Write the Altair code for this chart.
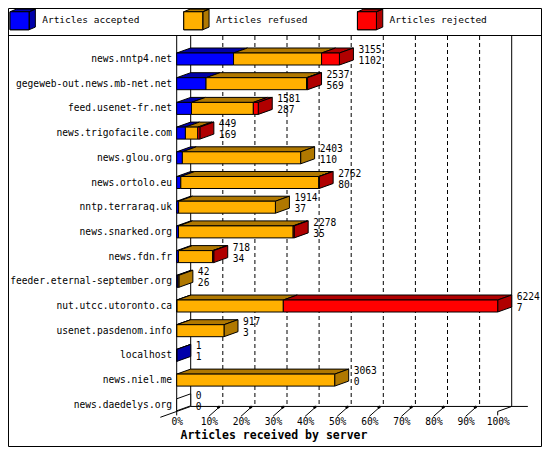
import altair as alt
import pandas as pd

# ---------------- data ----------------
servers = ["news.nntp4.net", "gegeweb-out.news.mb-net.net", "feed.usenet-fr.net",
           "news.trigofacile.com", "news.glou.org", "news.ortolo.eu", "nntp.terraraq.uk",
           "news.snarked.org", "news.fdn.fr", "feeder.eternal-september.org",
           "nut.utcc.utoronto.ca", "usenet.pasdenom.info", "localhost", "news.niel.me",
           "news.daedelys.org"]
offered = [3155, 2537, 1581, 449, 2403, 2762, 1914, 2278, 718, 42, 6224, 917, 1, 3063, 0]
accepted = [1102, 569, 287, 169, 110, 80, 37, 35, 34, 26, 7, 3, 1, 0, 0]
refused = [1707, 1948, 1199, 240, 2293, 2677, 1877, 2223, 664, 16, 2060, 914, 0, 3063, 0]
rejected = [346, 20, 95, 40, 0, 5, 0, 20, 20, 0, 4157, 0, 0, 0, 0]

categories = ["Articles accepted", "Articles refused", "Articles rejected"]
front_colors = ["#0000FF", "#FFB000", "#FF0000"]
side_colors = ["#0000AA", "#B07800", "#B00000"]
pct_ticks = list(range(0, 101, 10))
x_title = "Articles received by server"

# ---------------- geometry / style ----------------
MONO = "DejaVu Sans Mono"
ROW = 24.7
W, H = 321.0, ROW * 15.2
DEPTH_PX, RISE_PX = 14.0, 5.0
HALF_PX = 6.0
FIRST_PX = 23.0
SVG_W, SVG_H = 534.0, 439.0
PAD_L, PAD_T = 168.7, 28.0

D = DEPTH_PX / W * 100.0
DY = RISE_PX / ROW
HALF = HALF_PX / ROW
Y0 = FIRST_PX / ROW
YMAX = H / ROW
BACK = YMAX - DY

peak = max(offered)
series = [accepted, refused, rejected]

front, top, side, empty, rows = [], [], [], [], []
for i, name in enumerate(servers):
    u = Y0 + i
    start = 0
    last = None
    for cat, vals in zip(categories, series):
        v = vals[i]
        if v <= 0:
            continue
        a = start / peak * 100.0
        b = (start + v) / peak * 100.0
        front.append(dict(segf=cat, x=a, x2=b, y=u - HALF, y2=u + HALF))
        key = f"{i}-{cat}"
        top.append(dict(key=key, seg=cat, y=u - HALF, x=a, x2=b))
        top.append(dict(key=key, seg=cat, y=u - HALF - DY, x=a + D, x2=b + D))
        start += v
        last = cat
    end = start / peak * 100.0
    pts = [dict(key=str(i), seg=last or "", x=end, y=u - HALF, y2=u + HALF),
           dict(key=str(i), seg=last or "", x=end + D, y=u - HALF - DY, y2=u + HALF - DY)]
    (side if last else empty).extend(pts)
    rows.append(dict(server=name, u=u, xl=end + D, tot=str(offered[i]), acc=str(accepted[i])))

front_df = pd.DataFrame(front)
top_df = pd.DataFrame(top)
side_df = pd.DataFrame(side)
empty_df = pd.DataFrame(empty)
rows_df = pd.DataFrame(rows)

solid = [
    (0, 0, 0, YMAX + 0.16),
    (D, 0, D, BACK),
    (100 + D, 0, 100 + D, BACK),
    (D, BACK, 109.4, BACK),
    (-5.1, BACK + DY * (D + 5.1) / D, D, BACK),
    (100, YMAX, 100 + D, BACK),
    (100, YMAX, 100, YMAX + 0.16),
] + [(p, YMAX + 0.2, p + 0.8 * D, BACK) for p in pct_ticks[1:-1]]
solid_df = pd.DataFrame(solid, columns=["x", "y", "x2", "y2"])
blob_df = pd.DataFrame([(p + 0.6 * D, BACK + 0.06, p + 0.78 * D, BACK + 0.01) for p in pct_ticks[1:-1]],
                       columns=["x", "y", "x2", "y2"])
dash_df = pd.DataFrame([(p + D, 0, p + D, BACK) for p in pct_ticks[1:-1]],
                       columns=["x", "y", "x2", "y2"])

xs = alt.Scale(domain=[0, 100], nice=False, zero=False)
ys = alt.Scale(domain=[0, YMAX], reverse=True, nice=False, zero=False)

x_axis = alt.Axis(values=pct_ticks, labelExpr="datum.value + '%'", ticks=False, domain=False,
                  grid=False, labelFont=MONO, labelFontSize=9.6, labelPadding=5,
                  labelColor="black", labelFlush=False, labelOverlap=False,
                  title=x_title, titleFont=MONO, titleFontSize=11.5, titleFontWeight="bold",
                  titleColor="black", titleAnchor="start", titleAlign="left", titleX=3.3,
                  titleY=24, titleBaseline="middle")


def X(field, **kw):
    return alt.X(field, scale=xs, axis=x_axis, **kw)


def Y(field, **kw):
    return alt.Y(field, scale=ys, axis=None, **kw)


CUBE = ("M-1,-0.63L0.5,-0.63L0.5,0.79L-1,0.79Z "
        "M-1,-0.63L-0.5,-0.84L1,-0.84L0.5,-0.63Z "
        "M0.5,-0.63L1,-0.84L1,0.58L0.5,0.79Z")
FRONT = "M-1,-0.63L0.5,-0.63L0.5,0.79L-1,0.79Z"

legend_common = dict(orient="none", legendX=-167.5, legendY=-30, direction="horizontal",
                     columns=3, gridAlign="all", columnPadding=40.7, padding=0,
                     title=None, symbolSize=641, symbolStrokeColor="black",
                     symbolStrokeWidth=1, labelFont=MONO, labelFontSize=9.5,
                     labelOffset=6, labelColor="black", symbolOpacity=1)


def seg_rules(df, **mk):
    return alt.Chart(df).mark_rule(color="black", **mk).encode(
        x=X("x:Q"), x2="x2:Q", y=Y("y:Q"), y2="y2:Q")


bx0, bx1 = 8.5 - (8 + PAD_L), (SVG_W + 8 - 0.5) - (8 + PAD_L)
by0, by1 = 8.5 - (8 + PAD_T), (SVG_H + 8 - 0.5) - (8 + PAD_T)

dummy = alt.Data(values=[{"k": 1}])
border = alt.Chart(dummy).mark_rect(fillOpacity=0, stroke="black", strokeWidth=1).encode(
    x=alt.value(bx0), x2=alt.value(bx1), y=alt.value(by0), y2=alt.value(by1))
separator = alt.Chart(dummy).mark_rule(color="black", strokeWidth=1).encode(
    x=alt.value(bx0), x2=alt.value(bx1), y=alt.value(-0.5))

grid = seg_rules(dash_df, strokeWidth=1, strokeDash=[4, 3])
lines = seg_rules(solid_df, strokeWidth=1)
blobs = seg_rules(blob_df, strokeWidth=2.5)

top_faces = alt.Chart(top_df).mark_area(orient="horizontal", stroke="black", strokeWidth=1,
                                        opacity=1).encode(
    y=Y("y:Q"),
    x=X("x:Q", stack=None),
    x2="x2:Q",
    detail="key:N",
    color=alt.Color("seg:N", scale=alt.Scale(domain=categories, range=side_colors),
                    legend=alt.Legend(symbolType=CUBE, labelOpacity=0, **legend_common)))

side_faces = alt.Chart(side_df).mark_area(orient="vertical", stroke="black", strokeWidth=1,
                                          opacity=1).encode(
    x=X("x:Q"),
    y=Y("y:Q", stack=None),
    y2="y2:Q",
    detail="key:N",
    color=alt.Color("seg:N", scale=alt.Scale(domain=categories, range=side_colors)))

empty_faces = alt.Chart(empty_df).mark_area(orient="vertical", stroke="black", strokeWidth=1,
                                            fill="white", opacity=1).encode(
    x=X("x:Q"),
    y=Y("y:Q", stack=None),
    y2="y2:Q",
    detail="key:N")

front_faces = alt.Chart(front_df).mark_rect(stroke="black", strokeWidth=1).encode(
    x=X("x:Q"), x2="x2:Q",
    y=Y("y:Q"), y2="y2:Q",
    fill=alt.Fill("segf:N", scale=alt.Scale(range=front_colors),
                  legend=alt.Legend(symbolType=FRONT, **legend_common)))

row_labels = alt.Chart(rows_df).mark_text(align="right", baseline="middle", font=MONO,
                                          fontSize=9.6, color="black").encode(
    x=alt.value(-4.7), y=Y("u:Q"), text="server:N")

tot_labels = alt.Chart(rows_df).mark_text(align="left", baseline="middle", font=MONO,
                                          fontSize=9.6, color="black", dx=5, dy=-9).encode(
    x=X("xl:Q"), y=Y("u:Q"), text="tot:N")

acc_labels = alt.Chart(rows_df).mark_text(align="left", baseline="middle", font=MONO,
                                          fontSize=9.6, color="black", dx=5, dy=2).encode(
    x=X("xl:Q"), y=Y("u:Q"), text="acc:N")

chart = alt.layer(
    border, separator, grid, lines, blobs,
    top_faces, side_faces, empty_faces, front_faces,
    row_labels, tot_labels, acc_labels,
).properties(
    width=W, height=H,
    autosize=alt.AutoSizeParams(type="none"),
    padding={"left": PAD_L, "top": PAD_T, "right": SVG_W - PAD_L - W,
             "bottom": SVG_H - PAD_T - H},
    background="white",
).configure_view(stroke=None)

chart.save("out.html", embed_options={"renderer": "svg", "actions": False})
